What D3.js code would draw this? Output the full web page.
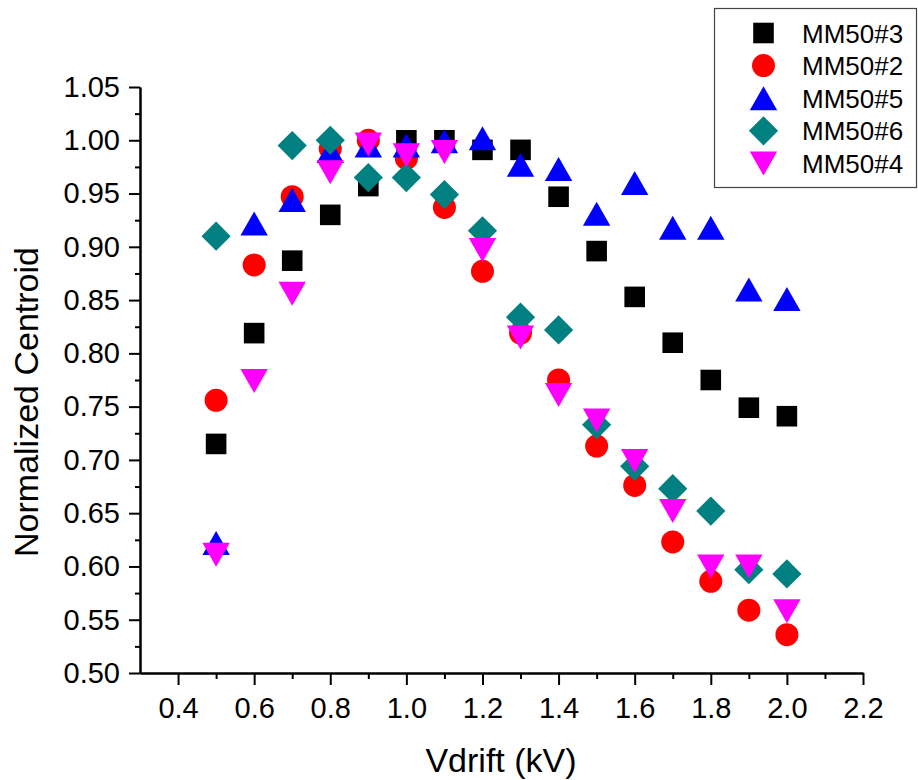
<!DOCTYPE html>
<html>
<head>
<meta charset="utf-8">
<script src="https://cdn.jsdelivr.net/npm/d3@7"></script>
<style>
  html, body { margin: 0; padding: 0; background: #fff; }
  svg { display: block; font-family: "Liberation Sans", Arial, sans-serif; }
</style>
</head>
<body>
<svg id="chart" width="918" height="780"></svg>
<script>
// Drift voltage (kV) at which each detector was measured
const vdrift = [0.5, 0.6, 0.7, 0.8, 0.9, 1.0, 1.1, 1.2, 1.3, 1.4, 1.5, 1.6, 1.7, 1.8, 1.9, 2.0];

// Normalized centroid per detector (null = no measurement)
const mm50_3 = [0.715, 0.819, 0.887, 0.930, 0.957, 1.000, 1.000, 0.991, 0.991, 0.947, 0.896, 0.853, 0.810, 0.775, 0.749, 0.741];
const mm50_2 = [0.756, 0.883, 0.947, 0.992, 1.000, 0.983, 0.937, 0.877, 0.819, 0.775, 0.713, 0.676, 0.623, 0.586, 0.559, 0.536];
const mm50_5 = [0.622, 0.922, 0.944, 0.990, 0.995, 0.995, 0.999, 1.002, 0.977, 0.973, 0.931, 0.960, 0.918, 0.918, 0.860, 0.851];
const mm50_6 = [0.910, null, 0.995, 1.000, 0.965, 0.965, 0.949, 0.915, 0.834, 0.822, 0.733, 0.694, 0.673, 0.652, 0.597, 0.593];
const mm50_4 = [0.611, 0.774, 0.856, 0.970, 0.996, 0.986, 0.989, 0.897, 0.815, 0.761, 0.737, 0.699, 0.652, 0.600, 0.600, 0.558];

const seriesNames = ["MM50#3", "MM50#2", "MM50#5", "MM50#6", "MM50#4"];
const seriesValues = [mm50_3, mm50_2, mm50_5, mm50_6, mm50_4];
const seriesColors = ["#000000", "#ff0000", "#0000ff", "#008080", "#ff00ff"];
const seriesShapes = ["square", "circle", "triUp", "diamond", "triDown"];

const xTicks = [0.4, 0.6, 0.8, 1.0, 1.2, 1.4, 1.6, 1.8, 2.0, 2.2];
const yTicks = [0.50, 0.55, 0.60, 0.65, 0.70, 0.75, 0.80, 0.85, 0.90, 0.95, 1.00, 1.05];

const svg = d3.select("#chart");

const plot = { left: 140, right: 863, top: 87, bottom: 673 };

const x = d3.scaleLinear().domain([0.3, 2.2]).range([plot.left, plot.right]);
const y = d3.scaleLinear().domain([0.5, 1.05]).range([plot.bottom, plot.top]);

// Marker outlines, each centred on its bounding box
function shapePath(kind) {
  switch (kind) {
    case "square": { const h = 10.3; return `M${-h},${-h}H${h}V${h}H${-h}Z`; }
    case "circle": { const r = 11.5; return `M${r},0A${r},${r} 0 1,1 ${-r},0A${r},${r} 0 1,1 ${r},0Z`; }
    case "triUp":  { const w = 13.7, h = 12; return `M0,${-h}L${w},${h}L${-w},${h}Z`; }
    case "triDown":{ const w = 13.7, h = 12; return `M0,${h}L${w},${-h}L${-w},${-h}Z`; }
    case "diamond":{ const d = 14.6; return `M0,${-d}L${d},0L0,${d}L${-d},0Z`; }
  }
}

// Axes
const tickFont = "29px";

const xAxis = d3.axisBottom(x)
  .tickValues(xTicks)
  .tickFormat(d3.format(".1f"))
  .tickSizeInner(12).tickSizeOuter(0).tickPadding(12);

const xMinor = d3.axisBottom(x)
  .tickValues(d3.range(0, 9).map(i => 0.5 + i * 0.2))
  .tickFormat("")
  .tickSizeInner(6).tickSizeOuter(0);

const yAxis = d3.axisLeft(y)
  .tickValues(yTicks)
  .tickFormat(d3.format(".2f"))
  .tickSizeInner(11).tickSizeOuter(0).tickPadding(9);

const yMinor = d3.axisLeft(y)
  .tickValues(d3.range(0, 11).map(i => 0.525 + i * 0.05))
  .tickFormat("")
  .tickSizeInner(5).tickSizeOuter(0);

function styleAxis(g) {
  g.select(".domain").attr("stroke", "#000").attr("stroke-width", 2);
  g.selectAll(".tick line").attr("stroke", "#000").attr("stroke-width", 2);
  g.selectAll(".tick text")
    .attr("fill", "#000")
    .style("font-size", tickFont)
    .style("font-family", "'Liberation Sans', Arial, sans-serif");
}

svg.append("g").attr("transform", `translate(0,${plot.bottom})`).call(xMinor).call(styleAxis);
svg.append("g").attr("transform", `translate(0,${plot.bottom})`).call(xAxis).call(styleAxis);
svg.append("g").attr("transform", `translate(${plot.left},0)`).call(yMinor).call(styleAxis);
svg.append("g").attr("transform", `translate(${plot.left},0)`).call(yAxis).call(styleAxis);

// Axis titles
svg.append("text")
  .attr("x", 501)
  .attr("y", 772)
  .attr("text-anchor", "middle")
  .style("font-size", "34px")
  .attr("fill", "#000")
  .text("Vdrift (kV)");

svg.append("text")
  .attr("transform", `translate(38,402) rotate(-90)`)
  .attr("text-anchor", "middle")
  .style("font-size", "34px")
  .attr("fill", "#000")
  .text("Normalized Centroid");

// Data markers, drawn series by series so later ones sit on top
seriesValues.forEach((vals, si) => {
  const pts = vdrift.map((v, i) => ({ v, c: vals[i] })).filter(d => d.c !== null);
  svg.append("g")
    .selectAll("path")
    .data(pts)
    .join("path")
    .attr("d", shapePath(seriesShapes[si]))
    .attr("transform", d => `translate(${x(d.v)},${y(d.c)})`)
    .attr("fill", seriesColors[si]);
});

// Legend
const legend = svg.append("g");
legend.append("rect")
  .attr("x", 714.5).attr("y", 8.5)
  .attr("width", 202).attr("height", 179)
  .attr("fill", "#fff")
  .attr("stroke", "#444").attr("stroke-width", 1.2);

seriesNames.forEach((name, i) => {
  const cy = 33 + i * 32.6;
  legend.append("path")
    .attr("d", shapePath(seriesShapes[i]))
    .attr("transform", `translate(763.5,${cy})`)
    .attr("fill", seriesColors[i]);
  legend.append("text")
    .attr("x", 802).attr("y", cy + 9.5)
    .style("font-size", "26px")
    .attr("fill", "#000")
    .text(name);
});
</script>
</body>
</html>
